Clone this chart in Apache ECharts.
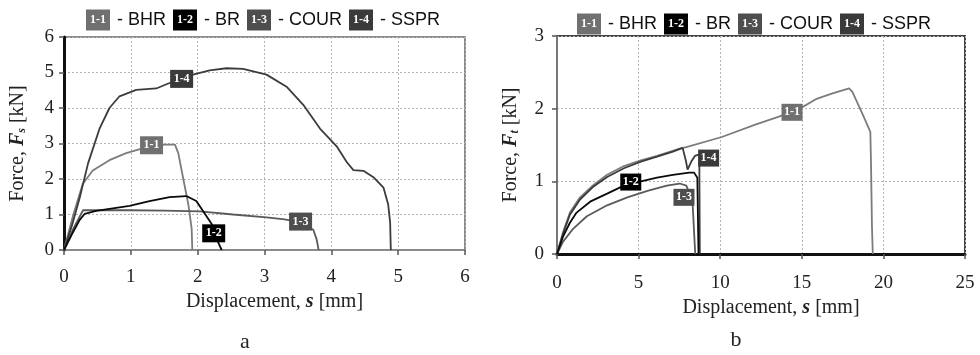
<!DOCTYPE html>
<html>
<head>
<meta charset="utf-8">
<script src="https://cdn.jsdelivr.net/npm/echarts@6/dist/echarts.min.js"></script>
<style>
html,body{margin:0;padding:0;background:#fff;}
#chart{width:980px;height:355px;}
</style>
</head>
<body>
<div id="chart"></div>
<script>
// ---- data ----
var ids = ['1-1', '1-2', '1-3', '1-4'];
var names = ['BHR', 'BR', 'COUR', 'SSPR'];
var xTicksA = [0, 6, 1];
var yTicksA = [0, 6, 1];
var xTicksB = [0, 25, 5];
var yTicksB = [0, 3, 1];

// panel a : shear
var bhrA = [[0,0],[0.14,1.0],[0.28,1.86],[0.43,2.24],[0.68,2.53],[0.93,2.73],[1.15,2.85],[1.31,2.93],[1.51,2.97],[1.66,2.97],[1.71,2.73],[1.78,2.05],[1.86,1.29],[1.91,0.6],[1.92,0]];
var brA = [[0,0],[0.12,0.45],[0.235,0.85],[0.31,1.02],[0.48,1.1],[0.98,1.24],[1.28,1.38],[1.58,1.49],[1.83,1.52],[1.98,1.38],[2.08,1.1],[2.21,0.73],[2.27,0.45],[2.31,0.2],[2.36,0]];
var courA = [[0,0],[0.14,0.6],[0.285,1.12],[0.98,1.12],[1.5,1.11],[2.03,1.09],[2.53,1.0],[3.03,0.92],[3.3,0.86],[3.54,0.78],[3.73,0.57],[3.78,0.3],[3.81,0]];
var ssprA = [[0,0],[0.12,0.7],[0.235,1.47],[0.36,2.44],[0.53,3.41],[0.68,4.0],[0.83,4.33],[1.08,4.51],[1.38,4.55],[1.56,4.69],[1.76,4.82],[1.93,4.94],[2.18,5.06],[2.43,5.12],[2.68,5.1],[3.03,4.94],[3.33,4.6],[3.58,4.09],[3.83,3.42],[4.08,2.92],[4.23,2.48],[4.33,2.25],[4.48,2.23],[4.63,2.05],[4.78,1.76],[4.85,1.29],[4.88,0.77],[4.89,0]];
var tagA = [[1.31,2.95],[2.24,0.47],[3.54,0.8],[1.76,4.82]];

// panel b : tension
var bhrB = [[0,0],[0.37,0.3],[0.79,0.57],[1.41,0.78],[2.24,0.95],[3.07,1.09],[4.1,1.21],[5.14,1.29],[6.13,1.35],[7.52,1.45],[7.92,1.47],[10.1,1.61],[12.15,1.78],[13.6,1.89],[14.8,1.99],[15.86,2.13],[16.88,2.21],[17.9,2.28],[18.1,2.23],[18.73,1.92],[19.2,1.68],[19.24,1.26],[19.3,0.37],[19.35,0]];
var brB = [[0,0],[0.37,0.24],[0.79,0.43],[1.2,0.57],[2.03,0.72],[3.07,0.83],[4.0,0.93],[5.14,1.0],[6.13,1.05],[7.1,1.09],[8.1,1.12],[8.4,1.12],[8.6,1.05],[8.67,0]];
var courB = [[0,0],[0.37,0.17],[1.0,0.35],[1.83,0.52],[3.07,0.67],[4.31,0.78],[5.54,0.87],[6.73,0.94],[7.52,0.97],[7.92,0.94],[8.2,0.8],[8.32,0.65],[8.47,0]];
var ssprB = [[0,0],[0.37,0.28],[0.79,0.54],[1.41,0.75],[2.24,0.93],[3.07,1.06],[4.1,1.18],[5.14,1.27],[6.13,1.34],[7.1,1.41],[7.7,1.46],[7.9,1.28],[8.0,1.16],[8.25,1.28],[8.45,1.35],[8.72,1.37],[8.75,0]];
var tagB = [[14.4,1.95],[4.52,0.99],[7.78,0.78],[9.29,1.32]];

// ---- styling ----
var lineColors = ['#7c7c7c', '#0a0a0a', '#5a5a5a', '#3c3c3c'];
var boxColors = ['#707070', '#000000', '#4e4e4e', '#3a3a3a'];
var serif = 'Liberation Serif';
var sans = 'Liberation Sans';

function legendText() {
  var parts = [];
  for (var i = 0; i < ids.length; i++) {
    parts.push('{b' + i + '|' + ids[i] + '}{t| - ' + names[i] + ' }');
  }
  return parts.join('');
}
function legendRich() {
  var r = { t: { fontFamily: sans, fontSize: 18, fontWeight: 'normal', color: '#111', lineHeight: 22, padding: [0, 2, 0, 2] } };
  for (var i = 0; i < ids.length; i++) {
    r['b' + i] = { backgroundColor: boxColors[i], color: '#fff', width: 24, height: 21, lineHeight: 21,
      align: 'center', fontFamily: serif, fontWeight: 'bold', fontSize: 12 };
  }
  return r;
}

var yRich = {
  n: { fontFamily: serif, fontSize: 20, color: '#222' },
  f: { fontFamily: serif, fontSize: 20, fontStyle: 'italic', fontWeight: 'bold', color: '#222' },
  sub: { fontFamily: serif, fontSize: 12, fontStyle: 'italic', fontWeight: 'bold', color: '#222', padding: [9, 0, 0, 0] }
};
var xRich = {
  n: { fontFamily: serif, fontSize: 20, color: '#222' },
  s: { fontFamily: serif, fontSize: 20, fontStyle: 'italic', fontWeight: 'bold', color: '#222' }
};

function mkX(idx, ticks, lineColor, lineWidth, margin) {
  return {
    gridIndex: idx, type: 'value', min: ticks[0], max: ticks[1], interval: ticks[2],
    name: '{n|Displacement, }{s|s}{n| [mm]}', nameLocation: 'middle', nameGap: 35,
    nameTextStyle: { rich: xRich, padding: [0, 0, 0, 20] },
    axisLine: { show: true, onZero: false, lineStyle: { color: lineColor, width: lineWidth } },
    axisTick: { show: true, inside: false, length: 5, lineStyle: { color: '#555', width: 1.5 } },
    axisLabel: { fontFamily: serif, fontSize: 19, color: '#222', margin: margin },
    splitLine: { show: true, lineStyle: { color: '#b5b5b5', width: 1, type: [2, 2] } }
  };
}
function mkY(idx, ticks, sub, lineColor, lineWidth, margin) {
  return {
    gridIndex: idx, type: 'value', min: ticks[0], max: ticks[1], interval: ticks[2],
    name: '{n|Force, }{f|F}{sub|' + sub + '}{n| [kN]}', nameLocation: 'middle', nameGap: 36,
    nameTextStyle: { rich: yRich },
    axisLine: { show: true, onZero: false, lineStyle: { color: lineColor, width: lineWidth } },
    axisTick: { show: true, inside: false, length: 5, lineStyle: { color: '#555', width: 1.5 } },
    axisLabel: { fontFamily: serif, fontSize: 19, color: '#222', margin: margin },
    splitLine: { show: true, lineStyle: { color: '#b5b5b5', width: 1, type: [2, 2] } }
  };
}

function mkSeries(data, i, panel, tags, boxW, boxH) {
  return {
    type: 'line', xAxisIndex: panel, yAxisIndex: panel, data: data,
    showSymbol: false, smooth: false, z: 3 + (i === 1 ? 1 : 0),
    lineStyle: { color: lineColors[i], width: 1.8 },
    itemStyle: { color: lineColors[i] },
    markPoint: {
      silent: true,
      symbol: 'rect', symbolSize: [boxW, boxH],
      itemStyle: { color: boxColors[i], borderWidth: 0 },
      label: { show: true, position: 'inside', formatter: ids[i], color: '#fff',
        fontFamily: serif, fontWeight: 'bold', fontSize: 12 },
      data: [{ coord: tags[i] }]
    }
  };
}

var seriesA = [bhrA, brA, courA, ssprA];
var seriesB = [bhrB, brB, courB, ssprB];
var series = [];
for (var i = 0; i < 4; i++) series.push(mkSeries(seriesA[i], i, 0, tagA, 23, 18));
for (var j = 0; j < 4; j++) series.push(mkSeries(seriesB[j], j, 1, tagB, 21, 17));

var chart = echarts.init(document.getElementById('chart'), null, { renderer: 'canvas' });
chart.setOption({
  animation: false,
  backgroundColor: '#ffffff',
  title: [
    { text: legendText(), left: 86, top: 9, padding: 0, textStyle: { fontWeight: 'normal', rich: legendRich() } },
    { text: legendText(), left: 577, top: 13, padding: 0, textStyle: { fontWeight: 'normal', rich: legendRich() } }
  ],
  grid: [
    { left: 64, top: 37, width: 401, height: 213, show: true, borderColor: '#666', borderWidth: 1.5, backgroundColor: 'transparent' },
    { left: 557, top: 36, width: 408, height: 218, show: true, borderColor: '#444', borderWidth: 2, backgroundColor: 'transparent' }
  ],
  xAxis: [ mkX(0, xTicksA, '#888', 1.5, 18), mkX(1, xTicksB, '#111', 3, 20) ],
  yAxis: [ mkY(0, yTicksA, 's', '#111', 3, 10), mkY(1, yTicksB, 't', '#777', 2, 13) ],
  graphic: [
    { type: 'text', x: 245, y: 342, style: { text: 'a', fontFamily: serif, fontSize: 22, fill: '#222', textAlign: 'center', textVerticalAlign: 'middle' } },
    { type: 'text', x: 736, y: 340, style: { text: 'b', fontFamily: serif, fontSize: 22, fill: '#222', textAlign: 'center', textVerticalAlign: 'middle' } }
  ],
  series: series
});
</script>
</body>
</html>
